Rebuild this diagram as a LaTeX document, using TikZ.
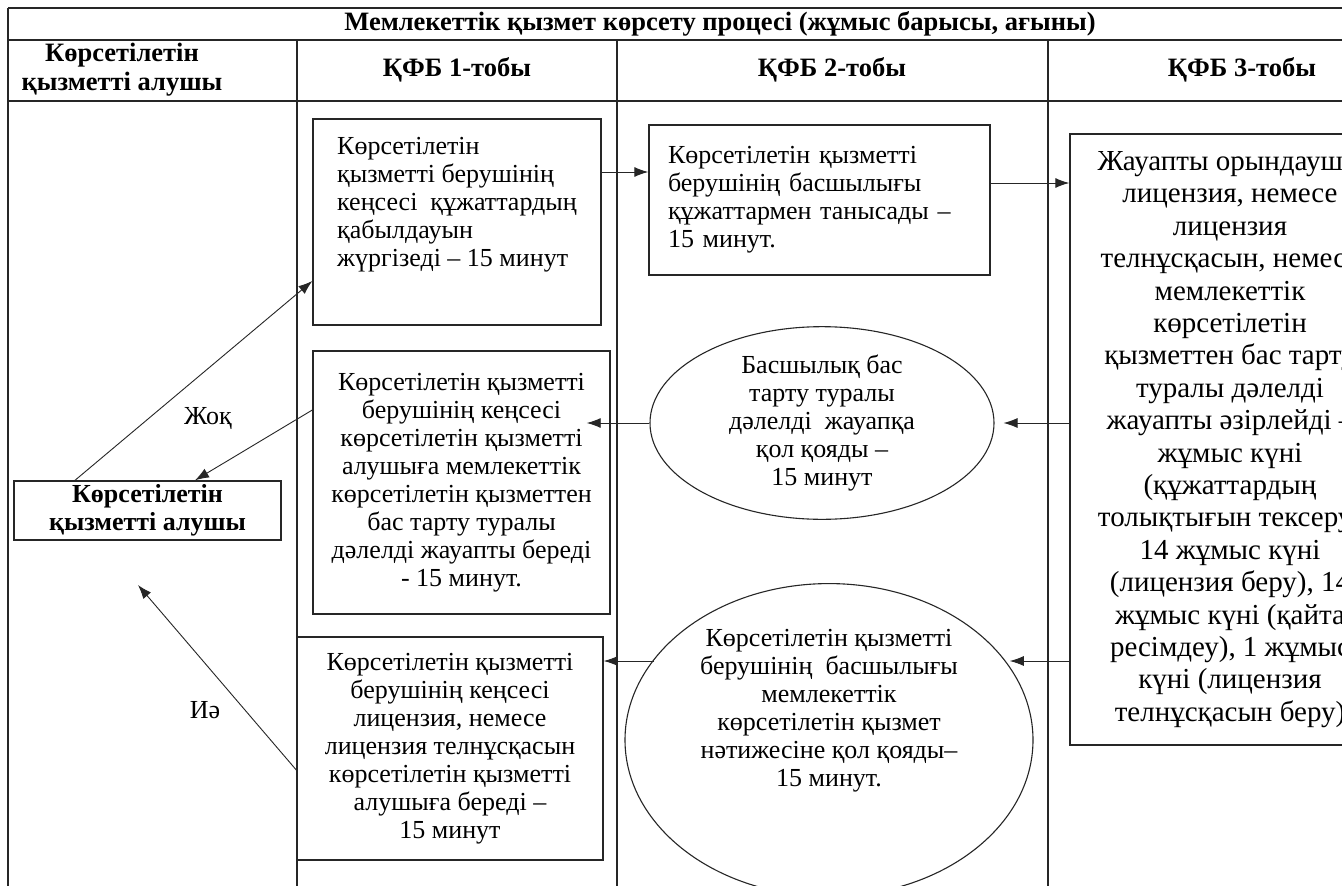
\documentclass[tikz,border=0pt]{standalone}
\usepackage{fontspec}
\setmainfont{Liberation Serif}
\usetikzlibrary{shapes.geometric,arrows.meta,calc}
\begin{document}
\begin{tikzpicture}[x=1pt,y=-1pt,
  grid/.style={line width=1.7pt,draw=black!85},
  box/.style={draw=black!85,line width=1.4pt,inner sep=0pt,
    font=\fontsize{26}{28}\selectfont},
  ell/.style={draw=black!85,ellipse,line width=1.1pt,inner sep=0pt,align=center,
    font=\fontsize{26}{28}\selectfont},
  arr/.style={-{Latex[length=14pt,width=10pt]},line width=0.9pt,draw=black!85},
  hdr/.style={font=\bfseries\fontsize{26.5}{29}\selectfont,align=center,inner sep=0pt},
  lbl/.style={font=\fontsize{26}{28}\selectfont,inner sep=0pt}]
\useasboundingbox (0,0) rectangle (1342,886);
\clip (0,0) rectangle (1342,886);
\fill[white] (0,0) rectangle (1342,886);

% table grid
\draw[grid] (8,8) -- (1450,8);
\draw[grid] (8,40) -- (1450,40);
\draw[grid] (8,101) -- (1450,101);
\draw[grid] (8,8) -- (8,900);
\draw[grid] (297,40) -- (297,900);
\draw[grid] (617,40) -- (617,900);
\draw[grid] (1048,40) -- (1048,900);

% headers
\node[hdr] (title) at (720,24) {Мемлекеттік қызмет көрсету процесі (жұмыс барысы, ағыны)};
\node[hdr] (h0) at (122,70) {Көрсетілетін\\қызметті алушы};
\node[hdr] (h1) at (457,70) {ҚФБ 1-тобы};
\node[hdr] (h2) at (832,70) {ҚФБ 2-тобы};
\node[hdr] (h3) at (1242,70) {ҚФБ 3-тобы};

% nodes
\node[box,minimum width=267pt,minimum height=59pt,align=center,
  font=\bfseries\fontsize{26}{28}\selectfont] (rec) at (147.5,510.5)
  {Көрсетілетін\\қызметті алушы};
\node[box,minimum width=288pt,minimum height=206pt,align=left] (b1) at (457,222)
  {Көрсетілетін\\қызметті берушінің\\кеңсесі\ \ құжаттардың\\қабылдауын\\жүргізеді – 15 минут\\[12pt]\mbox{}};
\node[box,minimum width=297pt,minimum height=263pt,align=center] (b2) at (461.5,482.5)
  {Көрсетілетін қызметті\\берушінің кеңсесі\\көрсетілетін қызметті\\алушыға мемлекеттік\\көрсетілетін қызметтен\\бас тарту туралы\\дәлелді жауапты береді\\- 15 минут.};
\node[box,minimum width=306pt,minimum height=223pt,align=center] (b3) at (450,748.5)
  {Көрсетілетін қызметті\\берушінің кеңсесі\\лицензия, немесе\\лицензия телнұсқасын\\көрсетілетін қызметті\\алушыға береді –\\15 минут};
\node[box,minimum width=341pt,minimum height=150pt,align=left,text width=303pt] (b4) at (819.5,200)
  {Көрсетілетін қызметті\\берушінің басшылығы\\құжаттармен танысады –\\15 минут.};
\node[box,minimum width=320pt,minimum height=611pt,align=center,
  font=\fontsize{29}{32.4}\selectfont] (b5) at (1230,439.5)
  {Жауапты орындаушы\\лицензия, немесе\\лицензия\\телнұсқасын, немесе\\мемлекеттік\\көрсетілетін\\қызметтен бас тарту\\туралы дәлелді\\жауапты әзірлейді –\\жұмыс күні\\(құжаттардың\\толықтығын тексеру)\\14 жұмыс күні\\(лицензия беру), 14\\жұмыс күні (қайта\\ресімдеу), 1 жұмыс\\күні (лицензия\\телнұсқасын беру)};
\node[ell,minimum width=344pt,minimum height=178pt] (e1) at (822,423)
  {Басшылық бас\\тарту туралы\\дәлелді\ \ жауапқа\\қол қояды –\\15 минут};
\node[ell,minimum width=408pt,minimum height=280pt] (e2) at (829,740)
  {Көрсетілетін қызметті\\берушінің\ \ басшылығы\\мемлекеттік\\көрсетілетін қызмет\\нәтижесіне қол қояды–\\15 минут.\\[36pt]\mbox{}};

% labels
\node[lbl] (no) at (208,418) {Жоқ};
\node[lbl] (yes) at (205,710) {Иә};

% connector points
\coordinate (recA) at ([xshift=-72.5pt]rec.north);
\coordinate (recB) at ([xshift=47.5pt]rec.north);
\coordinate (recC) at (138,585);
\coordinate (p1) at ([yshift=-59pt]b1.west);
\coordinate (p2) at ([yshift=72.5pt]b2.west);
\coordinate (p3) at ([yshift=-21.5pt]b3.west);
\coordinate (q14) at ([yshift=50pt]b1.east);
\coordinate (q45) at ([yshift=17pt]b4.east);
\coordinate (q5a) at ([yshift=16.5pt]b5.west);
\coordinate (q5b) at ([yshift=-221.5pt]b5.west);
\coordinate (q2) at ([yshift=59.5pt]b2.east);
\coordinate (q3) at ([yshift=87.5pt]b3.east);

% connectors
\draw[arr] (recA) -- (p1);
\draw[arr] (p2) -- (recB);
\draw[arr] (p3) -- (recC);
\draw[arr] (q14) -- (q14 -| b4.west);
\draw[arr] (q45) -- (q45 -| b5.west);
\draw[arr,shorten >=9pt] (q5a) -- (q5a -| e1.east);
\draw[arr,shorten >=-24pt] (e1.west) -- (e1.west -| b2.east);
\draw[arr,shorten >=6pt] (q5b) -- (q5b -| e2.25);
\draw[arr] (q3 -| e2.155) -- (q3);
\end{tikzpicture}
\end{document}
